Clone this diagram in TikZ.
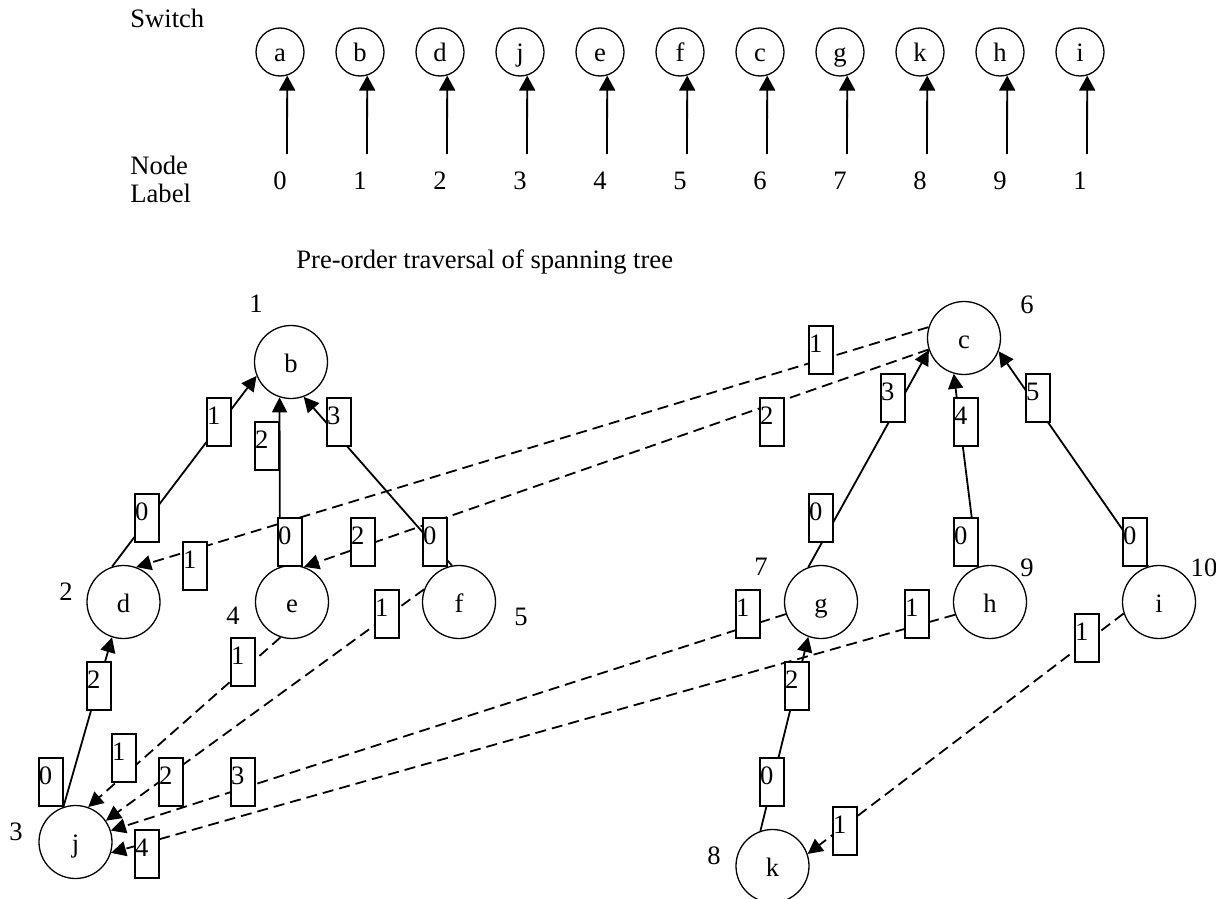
\documentclass[tikz,border=0pt]{standalone}
\usepackage{fontspec}
\setmainfont{Liberation Serif}
\usetikzlibrary{arrows.meta,positioning}

\begin{document}
\begin{tikzpicture}[
        x=0.5pt, y=-0.5pt,
        font=\fontsize{13.3}{14}\selectfont,
        sw/.style={draw, circle, line width=0.65pt, minimum size=24pt, inner sep=0pt, text height=10pt, text depth=0pt},
        vertex/.style={draw, circle, line width=0.65pt, minimum size=36.5pt, inner sep=0pt, text height=10pt, text depth=0pt},
        port/.style={draw, fill=white, line width=0.6pt, inner sep=0pt, text width=12pt, align=left, text height=13.3pt, text depth=10.7pt},
        num/.style={inner sep=0pt},
        arrow/.style={-{Triangle[length=7.5pt,width=7.5pt]}, line width=0.9pt},
        link/.style={arrow, dash pattern=on 5.5pt off 3pt}
    ]
        \useasboundingbox (0,0) rectangle (1216,899);
        % switch to label table
        \node[num, anchor=base west] (switch) at (130,28) {Switch};
        \node[num, anchor=north west, align=left] (nodelabel) at (130,156) {Node\\Label};
        \foreach \s/\l [count=\n from 0] in {a/0,b/1,d/2,j/3,e/4,f/5,c/6,g/7,k/8,h/9,i/1} {
            \node[sw] (s\n) at (280+80*\n,52) {\s};
            \node[num] (l\n) at (280+80*\n,181) {\l};
            \coordinate (t\n) at (287+80*\n,154);
            \draw[arrow, -{Triangle[length=7.5pt,width=8pt]}] (t\n) -- (s\n.287);
        }
        \node[num, anchor=base west] (title) at (296,268) {Pre-order traversal of spanning tree};

        % spanning tree
        \node[vertex] (b) at (291,362) {b};
        \node[vertex] (c) at (964,338) {c};
        \node[vertex] (d) at (123.5,602) {d};
        \node[vertex] (e) at (292,602) {e};
        \node[vertex] (f) at (459,602) {f};
        \node[vertex] (g) at (821,602) {g};
        \node[vertex] (h) at (990,602) {h};
        \node[vertex] (i) at (1159,602) {i};
        \node[vertex] (j) at (75.5,842) {j};
        \node[vertex] (k) at (772.5,866) {k};

        \node[num] (nb) at (256,304) {1};
        \node[num] (nd) at (66,592) {2};
        \node[num] (nj) at (16,832) {3};
        \node[num] (ne) at (233,616) {4};
        \node[num] (nf) at (521,617) {5};
        \node[num] (nc) at (1027,305) {6};
        \node[num] (ng) at (761,567) {7};
        \node[num] (nk) at (714,856) {8};
        \node[num] (nh) at (1027,568) {9};
        \node[num] (ni) at (1204,568) {10};

        % tree edges
        \draw[arrow] (d.108) -- (b.202);
        \draw[arrow] (e.109) -- (b.252);
        \draw[arrow] (f.101) -- (b.290);
        \draw[arrow] (j.109) -- (d.252);
        \draw[arrow] (g.110) -- (c.199);
        \draw[arrow] (h.109) -- (c.254);
        \draw[arrow] (i.107) -- (c.339);
        \draw[arrow] (k.109) -- (g.250);
        % other links
        \draw[link] (c.163) -- (d.70);
        \draw[link] (c.198) -- (e.71);
        \draw[link] (e.252) -- (j.70);
        \draw[link] (f.160) -- (j.35);
        \draw[link] (g.199) -- (j.18);
        \draw[link] (h.200) -- (j.343);
        \draw[link] (i.198) -- (k.19);

        % port numbers
        \foreach \p/\x/\y/\t in {b-1/219/422/1, d-0/147/518/0, b-2/267/446/2, e-0/290/542/0,
                b-3/339/422/3, f-0/435/542/0, d-1/195/566/1, e-2/363/542/2,
                c-1/821/350/1, c-2/772/422/2, c-3/893/398/3, g-0/821/518/0,
                c-4/966/422/4, h-0/966/542/0, c-5/1038/398/5, i-0/1135/542/0,
                d-2/99/686/2, j-0/51/782/0, e-1/243/662/1, f-1/387/614/1,
                j-1/124/758/1, j-2/171/782/2, j-3/243/782/3, j-4/147/854/4,
                g-1/748/614/1, h-1/917/614/1, i-1/1087/638/1, g-2/797/686/2,
                k-0/772/782/0, k-1/845/831/1}
            \node[port] (\p) at (\x,\y) {\t};
    \end{tikzpicture}
\end{document}
